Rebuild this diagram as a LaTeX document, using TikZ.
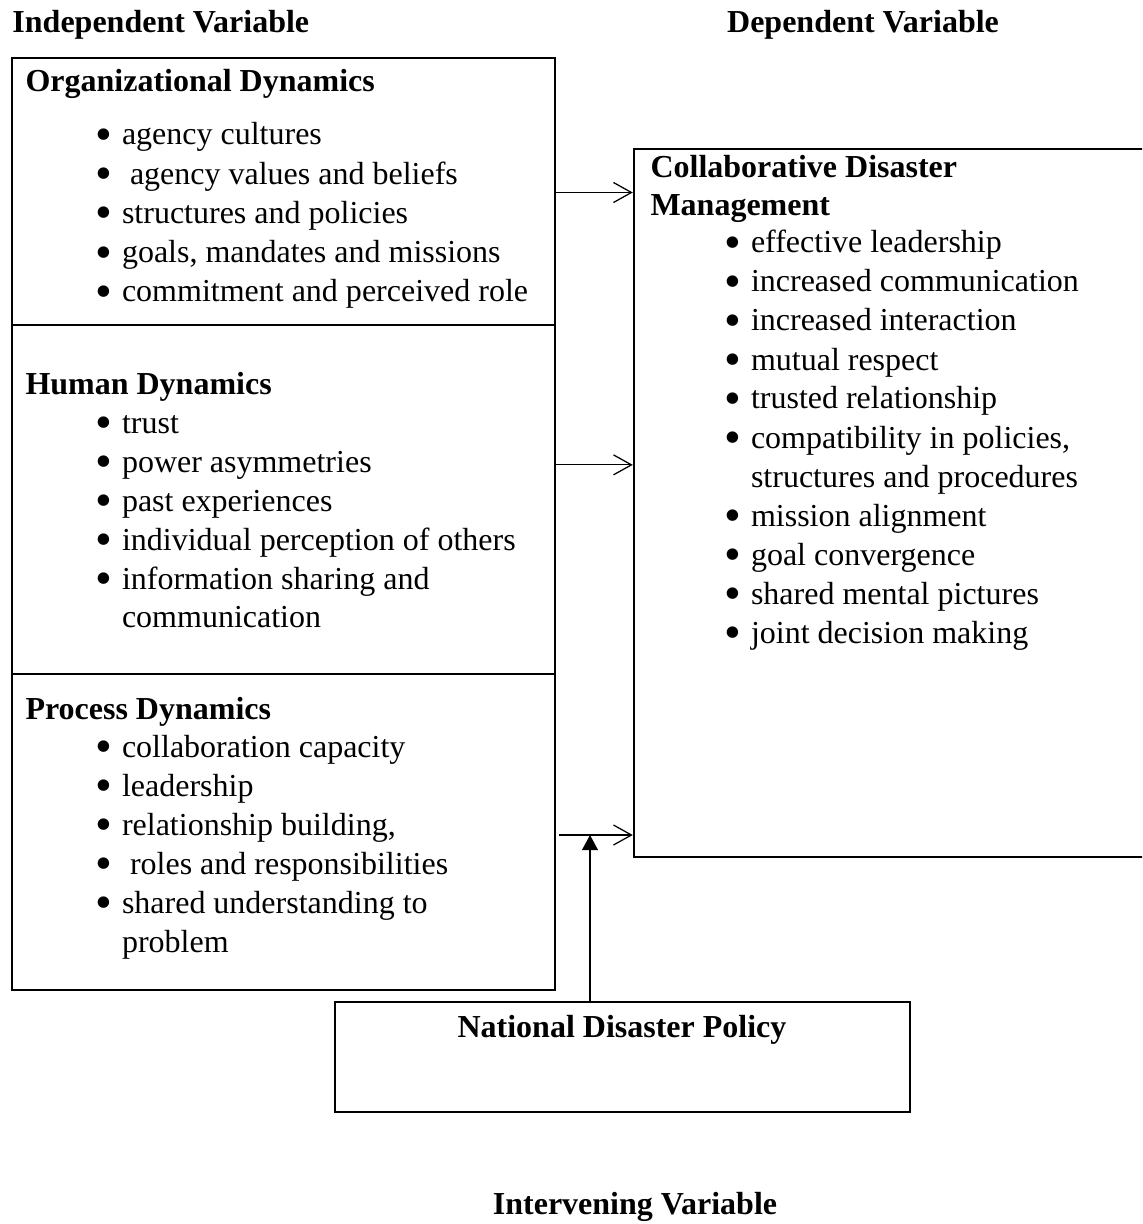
\documentclass[tikz,border=0pt]{standalone}
\usepackage{fontspec}
\setmainfont{Liberation Serif}
\usepackage{graphicx}
\usetikzlibrary{arrows.meta, fit}

\newlength{\bulgap}
\setlength{\bulgap}{8.6pt}
\newcommand{\bigbul}{\smash{\raisebox{-2.2pt}{\scalebox{1.5}{\textbullet}}}}

\begin{document}
\begin{tikzpicture}[
    x=0.4pt, y=-0.4pt,
    font=\fontsize{12.8}{15.6}\selectfont,
    frame/.style={draw=black, line width=1pt, inner sep=0pt},
    txt/.style={anchor=base west, inner sep=0pt},
    head/.style={txt, font=\fontsize{12.8}{15.6}\selectfont\bfseries},
    bul/.style={txt, execute at begin node={\makebox[\bulgap][l]{\hspace{-1.9pt}\bigbul}}},
    arr/.style={-{Straight Barb[length=7.2pt, width=8pt]}, line width=0.5pt},
    uparr/.style={-{Triangle[length=6pt, width=6.3pt]}, line width=0.6pt},
]
\useasboundingbox (0,0) rectangle (1142,1224);
\clip (0,0) rectangle (1142,1224);

%% Column titles
\node[head] (iv) at (12,33) {Independent Variable};
\node[head, anchor=base] (dv) at (863,33) {Dependent Variable};

%% Independent variable boxes
\node[frame, fit={(12,58) (555,325)}]  (org)  {};
\node[frame, fit={(12,325) (555,674)}] (hum)  {};
\node[frame, fit={(12,674) (555,990)}] (proc) {};

\node[head] (orgh) at (25,92) {Organizational Dynamics};
\foreach \t [count=\i] in {agency cultures, {\ agency values and beliefs},
    structures and policies, {goals, mandates and missions},
    commitment and perceived role}
  \node[bul] (org\i) at (100,{145+39.2*(\i-1)}) {\t};

\node[head] (humh) at (25,395) {Human Dynamics};
\foreach \t [count=\i] in {trust, power asymmetries, past experiences,
    individual perception of others, information sharing and}
  \node[bul] (hum\i) at (100,{433+39*(\i-1)}) {\t};
\node[txt, xshift=\bulgap] (hum6) at (100,627) {communication};

\node[head] (proch) at (25,719) {Process Dynamics};
\foreach \t [count=\i] in {collaboration capacity, leadership,
    {relationship building,}, {\ roles and responsibilities},
    shared understanding to}
  \node[bul] (proc\i) at (100,{757+39*(\i-1)}) {\t};
\node[txt, xshift=\bulgap] (proc6) at (100,952) {problem};

%% Dependent variable box
\node[frame, fit={(634,149) (1170,857)}] (cdm) {};
\node[head] (cdmh1) at (650,178) {Collaborative Disaster};
\node[head] (cdmh2) at (650,216) {Management};
\foreach \t [count=\i] in {effective leadership, increased communication,
    increased interaction, mutual respect, trusted relationship,
    {compatibility in policies,}}
  \node[bul] (cdm\i) at (729,{253+39*(\i-1)}) {\t};
\node[txt, xshift=\bulgap] (cdm7) at (729,487) {structures and procedures};
\foreach \t [count=\i from 8] in {mission alignment, goal convergence,
    shared mental pictures, joint decision making}
  \node[bul] (cdm\i) at (729,{526+39*(\i-8)}) {\t};

%% Intervening variable
\node[frame, fit={(335,1002) (910,1112)}] (ndp) {};
\node[head, anchor=base] (ndph) at (622,1037) {National Disaster Policy};
\node[head, anchor=base] (ivar) at (635,1214) {Intervening Variable};

%% Arrows
\draw[arr] ([yshift=-0.4pt]org.east) -- ([yshift=-0.4pt]org.east -| cdm.west);
\draw[arr] (hum.east |- hum2) -- (cdm.west |- hum2);
\draw[arr] ([xshift=1.2pt]proc.east |- proc3.base) -- (cdm.west |- proc3.base);
\coordinate (meet) at (590,835);
\draw[uparr] (ndp.north -| meet) -- (meet);

\end{tikzpicture}
\end{document}
